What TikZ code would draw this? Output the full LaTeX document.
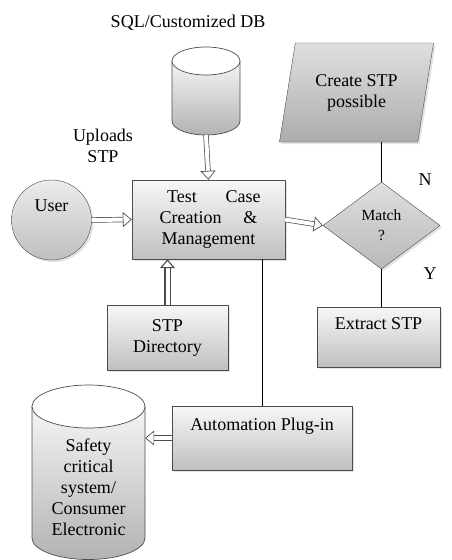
\documentclass[tikz,border=0pt]{standalone}
\usepackage{fontspec}
\setmainfont{Liberation Serif}
\usetikzlibrary{shapes.geometric, shadows, arrows.meta}

\tikzset{
  shade/.style={drop shadow={shadow xshift=2pt, shadow yshift=-2pt, fill=gray!45}},
  procbox/.style={rectangle, draw=gray!60!black, top color=gray!6, bottom color=gray!50, shade, align=center, inner sep=2pt},
  dbbody/.style={draw=gray!60!black, line width=0.7pt, top color=gray!8, bottom color=gray!60},
  dbtop/.style={draw=gray!60!black, line width=0.7pt, fill=white},
  hollow/.style={draw=gray!60!black, double=white, double distance=4pt, line width=0.7pt, -{Triangle[open, length=9pt, width=15pt]}},
  link/.style={draw=black, line width=0.7pt}
}

\begin{document}
\begin{tikzpicture}[x=1pt, y=-1pt, font=\fontsize{18}{21}\selectfont]
  \useasboundingbox (0,0) rectangle (451,560);

  % SQL database cylinder
  \path[dbbody] (172,61) -- (172,121) arc[start angle=180, end angle=0, x radius=34, y radius=14] -- (240,61) -- cycle;
  \draw[dbtop] (206,61) ellipse[x radius=34, y radius=14];
  \node (sqltext) at (188,23) {SQL/Customized DB};
  \node[minimum width=68pt, minimum height=88pt, inner sep=0pt] (sqldb) at (206,91) {};
  \node[align=center] (uploads) at (103,146) {Uploads\\STP};

  % Main process
  \node[procbox, minimum width=153pt, minimum height=79pt] (tcm) at (208.5,219.5)
    {\hspace{0.6em}Test\hspace{1.6em}Case\\Creation\hspace{1.2em}\&\\Management};
  \node[circle, draw=gray!60!black, top color=gray!15, bottom color=gray!50, shade, minimum size=80pt, align=center] (user) at (51.5,220) {User\\[8pt]};

  % Decision branch
  \node[trapezium, trapezium left angle=70, trapezium right angle=110, trapezium stretches body,
        draw=gray!60!black, top color=gray!25, bottom color=gray!65, shade, align=center,
        minimum width=154pt, minimum height=99pt] (create) at (356.5,92.5) {Create STP\\possible};
  \node[diamond, draw=gray!60!black, top color=gray!25, bottom color=gray!55, shade, align=center,
        minimum width=117pt, minimum height=87pt, inner sep=0pt, font=\fontsize{15.5}{20}\selectfont] (match) at (381.5,225.5) {Match\\?};
  \node (no) at (425,180) {N};
  \node (yes) at (430,274) {Y};
  \node[procbox, minimum width=123pt, minimum height=60pt] (extract) at (378.5,337) {Extract STP\\\strut};

  % Lower boxes
  \node[procbox, minimum width=121pt, minimum height=65pt] (stpdir) at (167.5,337.5) {STP\\Directory};
  \node[procbox, minimum width=180pt, minimum height=64pt] (auto) at (262,438) {Automation Plug-in\\\strut};

  % Target system cylinder
  \path[dbbody] (32,406.5) -- (32,538) arc[start angle=180, end angle=0, x radius=56.5, y radius=21.5] -- (145,406.5) -- cycle;
  \draw[dbtop] (88.5,406.5) ellipse[x radius=56.5, y radius=21.5];
  \node[minimum width=113pt, align=center, inner sep=0pt] (safety) at (88.5,487)
    {Safety\\critical\\system/\\Consumer\\Electronic};

  % Hollow arrows
  \draw[hollow] (sqldb.south) -- (tcm.north);
  \draw[hollow] (user.east) -- (tcm.west);
  \draw[hollow] (tcm.east) -- (match.west);
  \draw[hollow, line width=1.1pt] (stpdir.north) -- (stpdir.north |- tcm.south);
  \draw[hollow] (auto.west) -- (auto.west -| safety.east);

  % Plain connectors
  \draw[link] (match.north) -- (match.north |- create.south);
  \draw[link] (match.south) -- (match.south |- extract.north);
  \draw[link] (auto.north) -- (auto.north |- tcm.south);
\end{tikzpicture}
\end{document}
